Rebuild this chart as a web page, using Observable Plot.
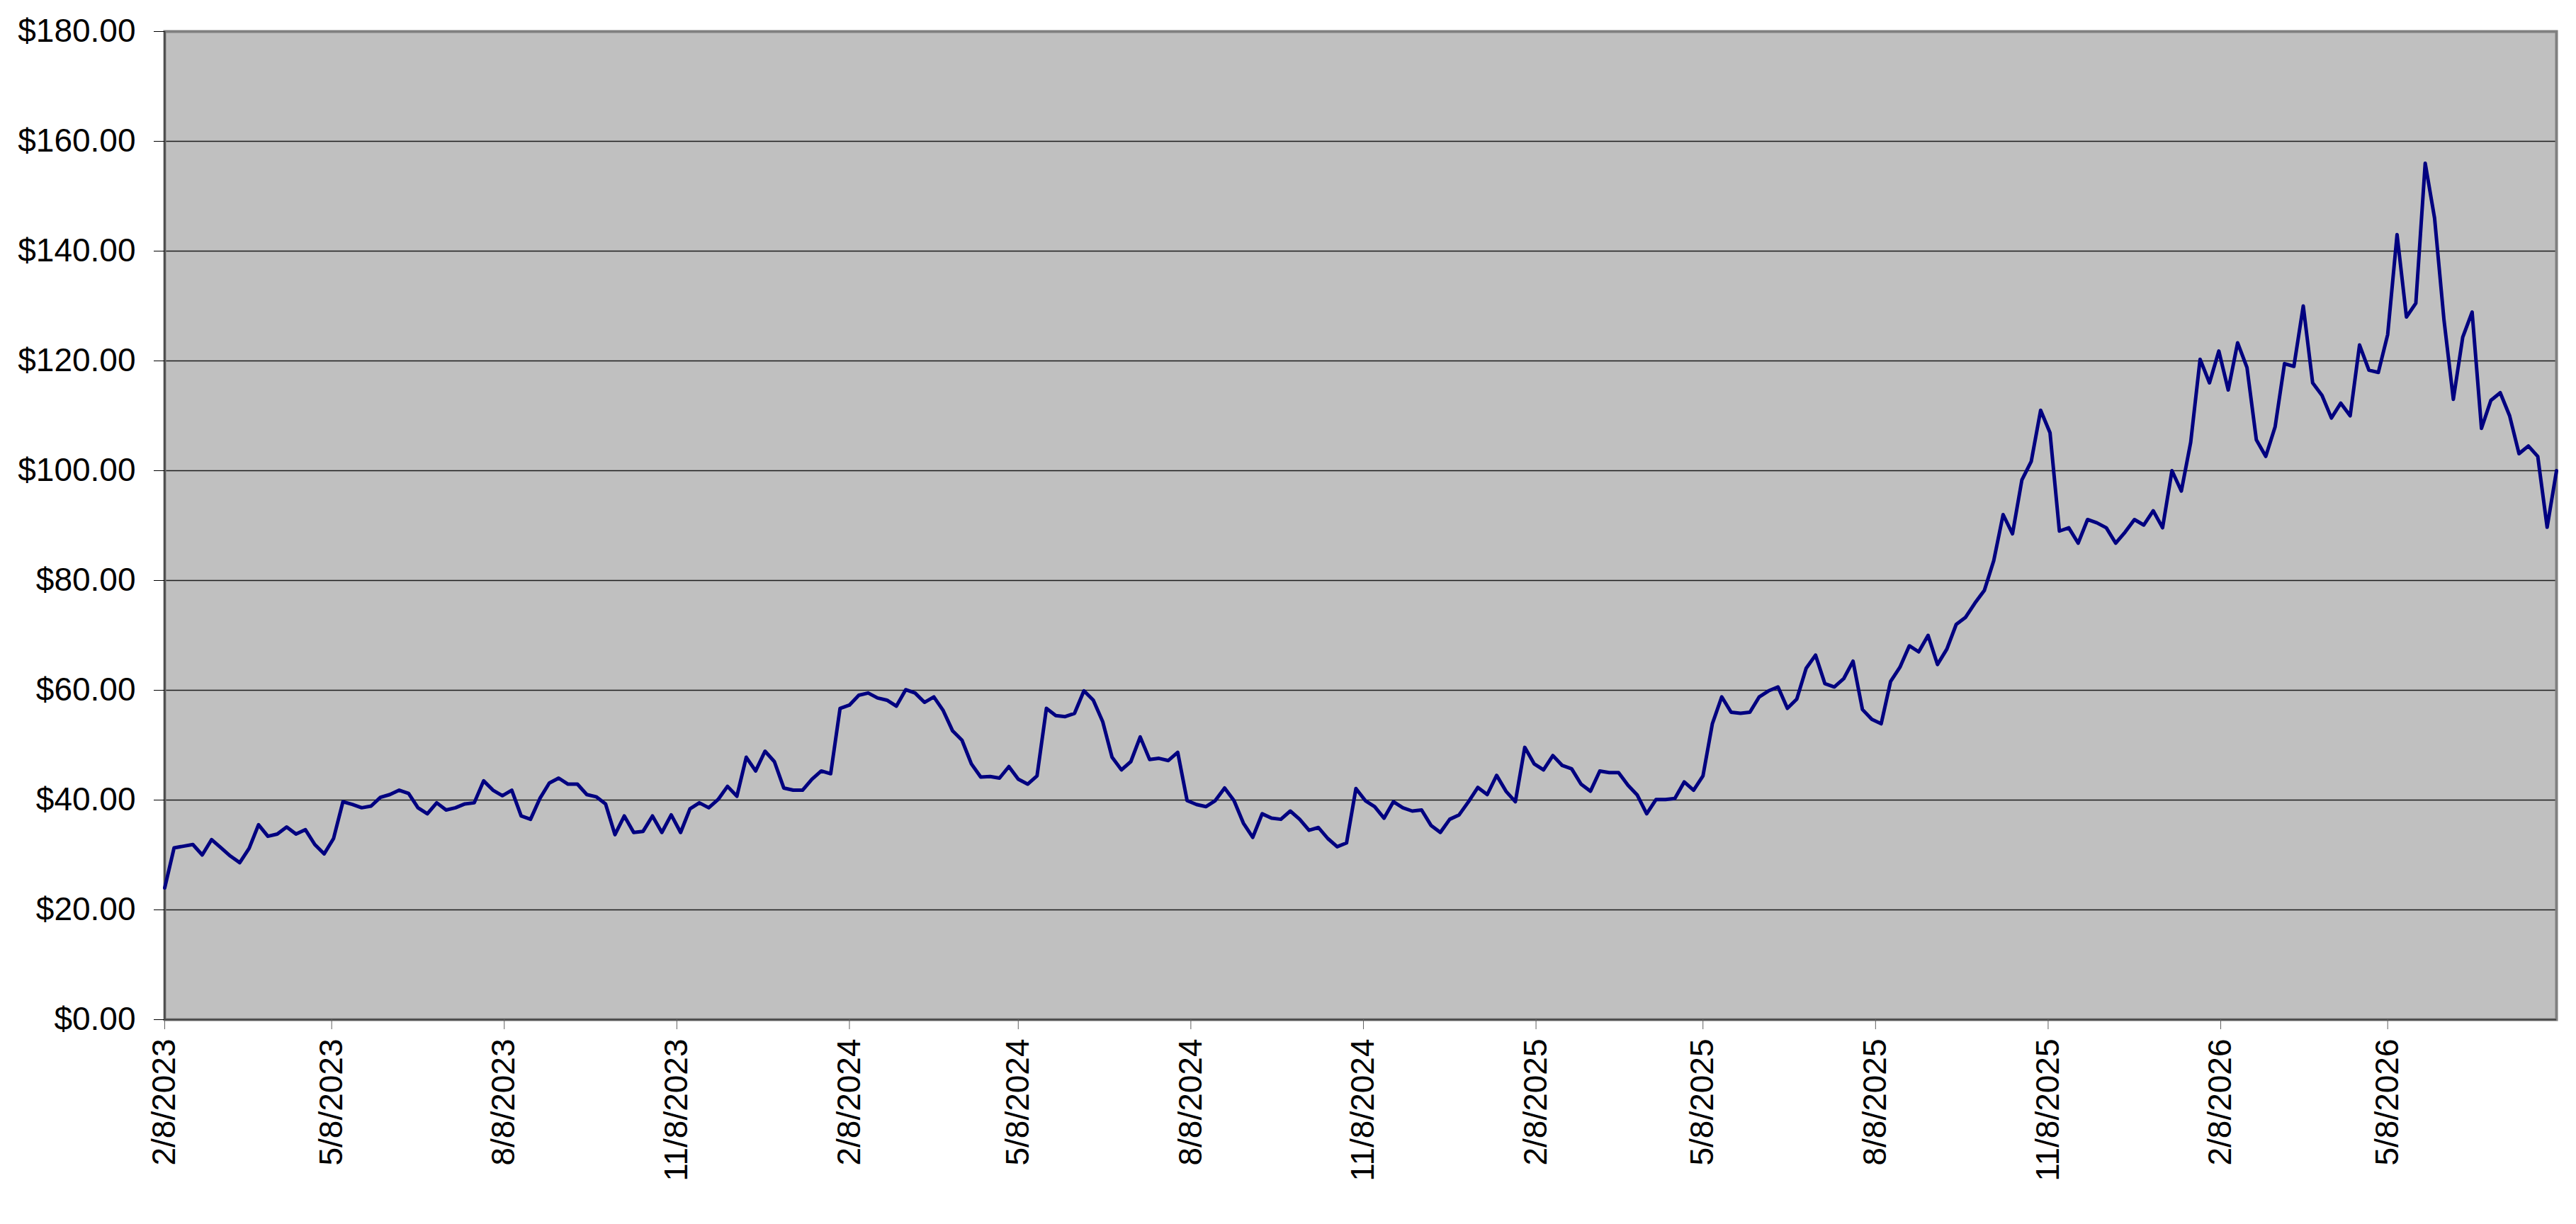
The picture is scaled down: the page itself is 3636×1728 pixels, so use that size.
<!DOCTYPE html>
<html>
<head>
<meta charset="utf-8">
<script src="https://cdn.jsdelivr.net/npm/d3@7"></script>
<script src="https://cdn.jsdelivr.net/npm/@observablehq/plot@0.6"></script>
<style>
  html, body { margin: 0; padding: 0; background: #ffffff; overflow: hidden; }
  #chart svg { display: block; }
</style>
</head>
<body>
<div id="chart"></div>
<script>
// Sampling of the price line (one reading every 5 calendar days)
const startDate = "2023-02-08";
const stepDays = 5;

const prices = [
  24.0, 31.3, 31.6, 31.9, 30.0, 32.8, 31.3, 29.8, 28.6, 31.2,
  35.5, 33.4, 33.8, 35.1, 33.8, 34.6, 31.9, 30.2, 33.0, 39.7,
  39.2, 38.6, 38.9, 40.5, 41.0, 41.8, 41.2, 38.6, 37.5, 39.5,
  38.2, 38.6, 39.3, 39.5, 43.5, 41.8, 40.8, 41.8, 37.1, 36.5,
  40.3, 43.1, 44.0, 42.9, 42.9, 41.0, 40.6, 39.3, 33.7, 37.1,
  34.1, 34.3, 37.1, 34.1, 37.3, 34.1, 38.4, 39.5, 38.6, 40.1,
  42.5, 40.7, 47.8, 45.3, 48.9, 47.0, 42.2, 41.8, 41.8, 43.8,
  45.3, 44.8, 56.7, 57.3, 59.1, 59.5, 58.6, 58.2, 57.1, 60.1,
  59.5, 57.8, 58.8, 56.3, 52.6, 50.9, 46.6, 44.2, 44.3, 44.0,
  46.1, 43.8, 42.9, 44.4, 56.7, 55.4, 55.2, 55.8, 59.9, 58.2,
  54.3, 47.8, 45.5, 47.0, 51.5, 47.4, 47.6, 47.2, 48.7, 39.9,
  39.2, 38.8, 39.9, 42.2, 39.9, 35.8, 33.2, 37.5, 36.7, 36.5,
  38.0, 36.5, 34.5, 35.0, 33.0, 31.5, 32.2, 42.1, 39.9, 38.8,
  36.7, 39.7, 38.6, 38.0, 38.2, 35.4, 34.1, 36.5, 37.3, 39.7,
  42.3, 41.0, 44.5, 41.6, 39.7, 49.6, 46.6, 45.5, 48.1, 46.3,
  45.7, 42.9, 41.6, 45.3, 45.0, 45.0, 42.7, 40.9, 37.5, 40.1,
  40.1, 40.3, 43.3, 41.8, 44.4, 53.9, 58.8, 56.0, 55.8, 56.0,
  58.8, 59.9, 60.6, 56.7, 58.4, 64.0, 66.4, 61.2, 60.6, 62.1,
  65.3, 56.5, 54.7, 53.9, 61.6, 64.2, 68.1, 67.0, 70.0, 64.7,
  67.5, 72.0, 73.3, 75.9, 78.2, 83.6, 92.0, 88.5, 98.3, 101.7,
  111.0, 106.9, 89.0, 89.6, 86.8, 91.1, 90.5, 89.6, 86.8, 88.8,
  91.1, 90.1, 92.7, 89.6, 100.0, 96.3, 105.2, 120.3, 116.0, 121.8,
  114.7, 123.3, 118.8, 105.6, 102.6, 108.0, 119.5, 119.0, 130.0, 116.0,
  113.7, 109.6, 112.3, 110.0, 122.9, 118.3, 117.9, 124.8, 143.0, 128.0,
  130.5, 156.0, 146.0, 127.5, 113.0, 124.3, 128.9, 107.7, 112.8, 114.2,
  110.0, 103.1, 104.5, 102.6, 89.7, 100.0
];

const yTickValues = [0, 20, 40, 60, 80, 100, 120, 140, 160, 180];

const xTickDates = [
  "2023-02-08", "2023-05-08", "2023-08-08", "2023-11-08",
  "2024-02-08", "2024-05-08", "2024-08-08", "2024-11-08",
  "2025-02-08", "2025-05-08", "2025-08-08", "2025-11-08",
  "2026-02-08", "2026-05-08"
];

const parse = d3.utcParse("%Y-%m-%d");
const t0 = parse(startDate);
const data = prices.map((p, i) => ({ date: d3.utcDay.offset(t0, i * stepDays), price: p }));

const chart = Plot.plot({
  width: 3636,
  height: 1728,
  marginLeft: 232,
  marginRight: 28,
  marginTop: 44,
  marginBottom: 289,
  style: {
    fontFamily: "'Liberation Sans', Arial, sans-serif",
    fontSize: "46px",
    background: "#ffffff",
    color: "#000000"
  },
  x: { type: "utc", domain: [data[0].date, data[data.length - 1].date] },
  y: { domain: [0, 180] },
  marks: [
    Plot.frame({ fill: "#C0C0C0", stroke: "none" }),
    Plot.ruleY(yTickValues.slice(1), { stroke: "#000000", strokeWidth: 1.4, strokeOpacity: 0.85 }),
    Plot.frame({ stroke: "#808080", strokeWidth: 4 }),
    Plot.ruleY([0], { stroke: "#404040", strokeWidth: 2 }),
    Plot.ruleX([data[0].date], { stroke: "#404040", strokeWidth: 2 }),
    Plot.lineY(data, { x: "date", y: "price", stroke: "#000080", strokeWidth: 5, strokeLinejoin: "round" }),
    Plot.axisY({
      ticks: yTickValues,
      tickFormat: d => "$" + d.toFixed(2),
      tickSize: 15,
      tickPadding: 26,
      label: null,
      fontSize: 46
    }),
    Plot.axisX({
      ticks: xTickDates.map(parse),
      tickFormat: d3.utcFormat("%-m/%-d/%Y"),
      tickSize: 14,
      tickPadding: 13,
      tickRotate: -90,
      label: null,
      fontSize: 46,
      stroke: "#606060"
    })
  ]
});

document.getElementById("chart").appendChild(chart);
</script>
</body>
</html>
